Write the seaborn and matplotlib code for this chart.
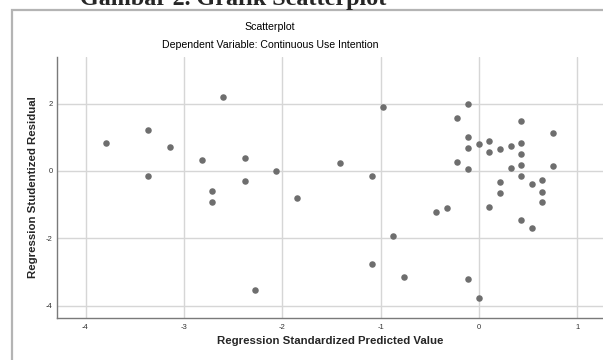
import matplotlib
matplotlib.use('Agg')
import matplotlib.pyplot as plt
import seaborn as sns
import pandas as pd
from matplotlib.patches import Rectangle

# Regression standardized predicted value vs studentized residual
pred_value = [-3.79, -3.36, -3.14, -3.36, -2.60, -2.82, -2.38, -2.38, -2.71, -2.71,
              -2.06, -1.85, -2.28, -1.41, -0.98, -1.09, -1.09, -0.76, -0.87, -0.44,
              -0.33, -0.22, -0.22, -0.11, -0.11, -0.11, -0.11, -0.11, 0.00, 0.00,
              0.10, 0.10, 0.10, 0.21, 0.21, 0.21, 0.32, 0.32, 0.43, 0.43,
              0.43, 0.43, 0.43, 0.43, 0.54, 0.54, 0.645, 0.645, 0.645, 0.75,
              0.75]
stud_resid = [0.83, 1.21, 0.72, -0.16, 2.20, 0.33, 0.38, -0.29, -0.58, -0.92,
              0.00, -0.81, -3.52, 0.23, 1.91, -0.14, -2.76, -3.14, -1.92, -1.22,
              -1.11, 1.58, 0.28, 2.00, 1.02, 0.69, 0.05, -3.21, 0.79, -3.77,
              0.89, 0.56, -1.07, 0.65, -0.33, -0.65, 0.74, 0.09, 1.49, 0.84,
              0.51, 0.18, -0.14, -1.44, -0.38, -1.68, -0.28, -0.61, -0.93, 1.12,
              0.14]

x_ticks = [-4, -3, -2, -1, 0, 1]
y_ticks = [-4, -2, 0, 2]

df = pd.DataFrame({'pred': pred_value, 'resid': stud_resid})

sns.set_style('white')
plt.rcParams['font.family'] = ['Liberation Sans', 'DejaVu Sans']
plt.rcParams['axes.unicode_minus'] = False

fig = plt.figure(figsize=(6.03, 3.60), dpi=100)

# outer frame of the output panel
fig.patches.append(Rectangle((12 / 603, -0.05), 1.0, 1.0 - 10 / 360 + 0.05,
                             transform=fig.transFigure, fill=False,
                             edgecolor='#b4b4b4', linewidth=1.6))

ax = fig.add_axes([57 / 603, 1 - 318 / 360, 1 - 57 / 603, (318 - 57) / 360])
ax.set_facecolor('none')
sns.scatterplot(data=df, x='pred', y='resid', ax=ax, color='#6e6e6e',
                s=22, linewidth=0, zorder=3)

ax.set_xlim(-4.29, 1.26)
ax.set_ylim(-4.36, 3.38)
ax.set_xticks(x_ticks)
ax.set_yticks(y_ticks)
ax.set_xticklabels([str(t) for t in x_ticks])
ax.set_yticklabels([str(t) for t in y_ticks])
ax.grid(True, color='#d6d6d6', linewidth=1.0)
ax.tick_params(axis='both', labelsize=5.5, colors='#333333', length=0)
ax.tick_params(axis='x', pad=4)
ax.tick_params(axis='y', pad=3)

for side in ['top', 'right']:
    ax.spines[side].set_visible(False)
for side in ['left', 'bottom']:
    ax.spines[side].set_color('#7a7a7a')
    ax.spines[side].set_linewidth(1.0)

ax.set_xlabel('Regression Standardized Predicted Value', fontsize=8.2,
              fontweight='bold', labelpad=4)
ax.set_ylabel('Regression Studentized Residual', fontsize=8.2,
              fontweight='bold', labelpad=6)

fig.text(270 / 603, 1 - 27 / 360, 'Scatterplot', ha='center', va='center',
         fontsize=7.6, color='black')
fig.text(270 / 603, 1 - 45 / 360, 'Dependent Variable: Continuous Use Intention',
         ha='center', va='center', fontsize=7.6, color='black')

# page caption above the panel, clipped by the top edge as in the source
fig.text(233 / 603, 1 - 5 / 360, 'Gambar 2. Grafik Scatterplot', ha='center',
         va='baseline', fontsize=17.4, fontweight='bold', family='Liberation Serif')

fig.savefig('out.png', dpi=100)
